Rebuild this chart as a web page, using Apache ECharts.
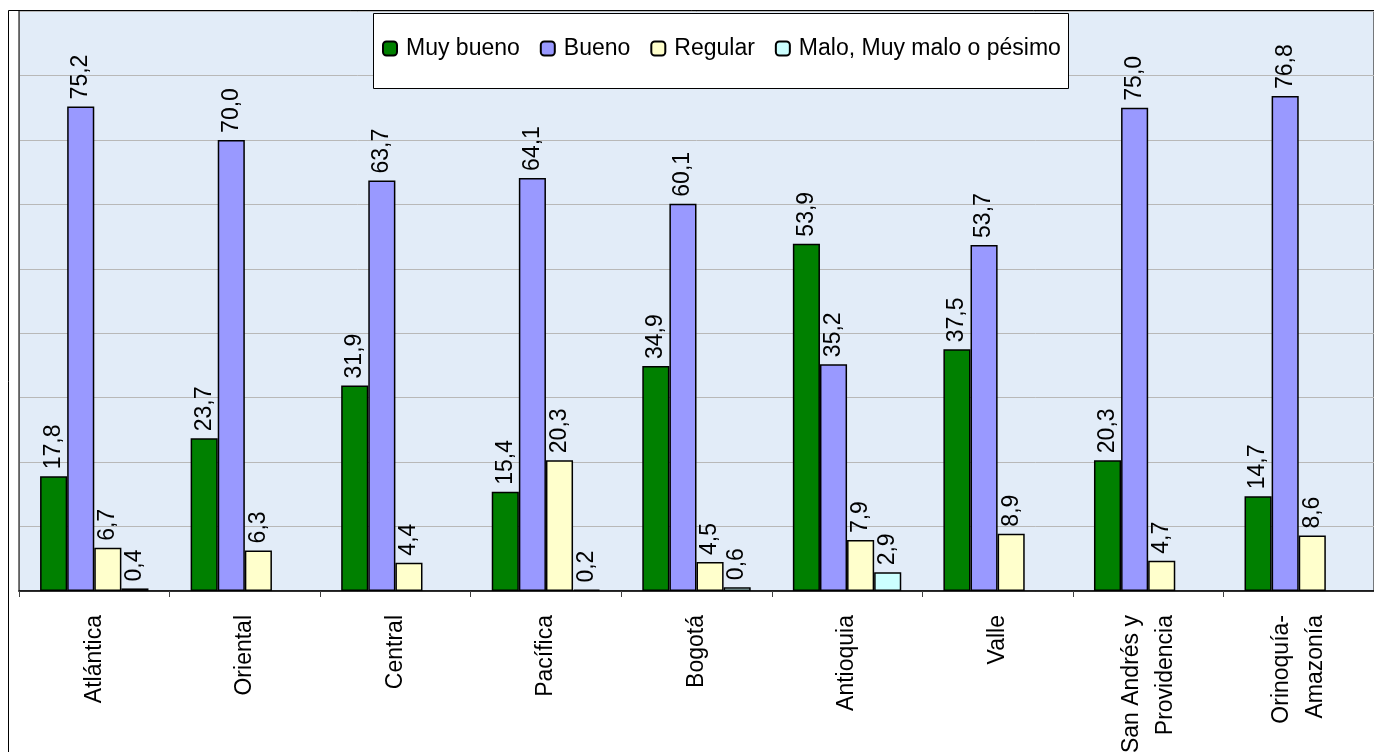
<!DOCTYPE html>
<html>
<head>
<meta charset="utf-8">
<script src="https://cdn.jsdelivr.net/npm/echarts@6/dist/echarts.min.js"></script>
<style>
html,body{margin:0;padding:0;background:#fff;}
#chart{width:1374px;height:752px;}
</style>
</head>
<body>
<div id="chart"></div>
<script>
const categories = ['Atlántica','Oriental','Central','Pacífica','Bogotá','Antioquia','Valle','San Andrés y\nProvidencia','Orinoquía-\nAmazonía'];
const seriesNames = ['Muy bueno','Bueno','Regular','Malo, Muy malo o pésimo'];
const muyBueno = [17.8, 23.7, 31.9, 15.4, 34.9, 53.9, 37.5, 20.3, 14.7];
const bueno = [75.2, 70.0, 63.7, 64.1, 60.1, 35.2, 53.7, 75.0, 76.8];
const regular = [6.7, 6.3, 4.4, 20.3, 4.5, 7.9, 8.9, 4.7, 8.6];
const malo = [0.4, null, null, 0.2, 0.6, 2.9, null, null, null];
const colors = ['#008000', '#9999ff', '#ffffcc', '#ccffff'];

const FONT = "'Liberation Sans', Arial, sans-serif";
const chart = echarts.init(document.getElementById('chart'));

function mk(name, data, color) {
  return {
    name: name,
    type: 'bar',
    data: data,
    barGap: '0%',
    barCategoryGap: '28%',
    itemStyle: { color: color, borderColor: '#000', borderWidth: 1.5 },
    label: {
      show: true,
      position: 'top',
      rotate: 90,
      align: 'left',
      verticalAlign: 'middle',
      distance: 7,
      fontFamily: FONT,
      fontSize: 23,
      color: '#000',
      formatter: p => (p.value == null ? '' : p.value.toFixed(1).replace('.', ','))
    },
    emphasis: { disabled: true },
    z: 2
  };
}

chart.setOption({
  animation: false,
  backgroundColor: '#fff',
  textStyle: { fontFamily: FONT },
  graphic: [
    { type: 'rect', z: 100, silent: true,
      shape: { x: 8.5, y: 10.5, width: 1400, height: 800 },
      style: { fill: 'none', stroke: '#000', lineWidth: 1 } },
    { type: 'rect', z: 100, silent: true,
      shape: { x: 373.5, y: 13.5, width: 695, height: 75 },
      style: { fill: '#fff', stroke: '#000', lineWidth: 1 } }
  ],
  legend: {
    z: 101,
    left: 382,
    top: 37,
    padding: 0,
    itemWidth: 14,
    itemHeight: 14,
    itemGap: 20,
    selectedMode: false,
    textStyle: { fontFamily: FONT, fontSize: 23, color: '#000', padding: [0, 0, 0, 4] },
    data: seriesNames
  },
  grid: {
    left: 19, top: 11, right: 0, bottom: 161,
    show: true,
    backgroundColor: '#e2ecf8',
    borderColor: '#505050',
    borderWidth: 1.5,
    containLabel: false,
    outerBoundsMode: 'none'
  },
  xAxis: {
    type: 'category',
    data: categories,
    axisLine: { show: true, lineStyle: { color: '#000', width: 1.5 } },
    axisTick: { show: true, alignWithLabel: false, length: 6, lineStyle: { color: '#404040' } },
    axisLabel: {
      rotate: 90,
      interval: 0,
      margin: 24,
      fontFamily: FONT,
      fontSize: 23,
      lineHeight: 34,
      color: '#000'
    }
  },
  yAxis: {
    type: 'value',
    min: 0, max: 90, interval: 10,
    axisLabel: { show: false },
    axisTick: { show: false },
    axisLine: { show: true, lineStyle: { color: '#606060', width: 1 } },
    splitLine: { show: true, lineStyle: { color: '#b8b8b8', width: 1 } }
  },
  series: [
    mk(seriesNames[0], muyBueno, colors[0]),
    mk(seriesNames[1], bueno, colors[1]),
    mk(seriesNames[2], regular, colors[2]),
    mk(seriesNames[3], malo, colors[3])
  ]
});
</script>
</body>
</html>
